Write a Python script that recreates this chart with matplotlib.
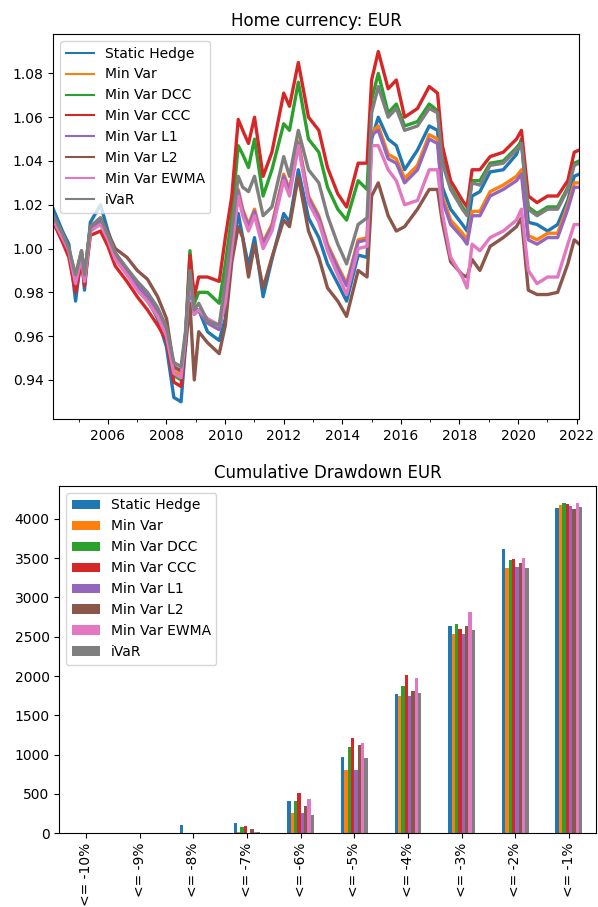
from __future__ import annotations

import matplotlib

matplotlib.use("Agg")

import matplotlib.dates as mdates
import matplotlib.pyplot as plt
import pandas as pd

# hedged portfolio value, sampled at turning points of each path
dates = [
    "2004-02-20", "2004-06-13", "2004-09-01", "2004-11-24", "2005-02-06",
    "2005-03-15", "2005-05-27", "2005-10-01", "2006-01-02", "2006-04-03",
    "2006-08-26", "2007-01-02", "2007-05-09", "2007-09-13", "2008-01-02",
    "2008-04-02", "2008-07-01", "2008-08-25", "2008-10-20", "2008-12-13",
    "2009-02-06", "2009-05-27", "2009-10-20", "2010-01-04", "2010-03-26",
    "2010-06-14", "2010-08-09", "2010-10-20", "2011-01-03", "2011-04-20",
    "2011-08-08", "2012-01-02", "2012-03-14", "2012-07-02", "2012-11-06",
    "2013-03-15", "2013-07-01", "2013-11-06", "2014-02-24", "2014-07-18",
    "2014-11-06", "2015-01-02", "2015-03-26", "2015-07-27", "2015-11-06",
    "2016-02-17", "2016-07-27", "2016-12-20", "2017-04-03", "2017-06-02",
    "2017-09-13", "2018-02-07", "2018-04-06", "2018-06-07", "2018-09-13",
    "2019-01-18", "2019-07-01", "2019-12-13", "2020-02-13", "2020-05-08",
    "2020-08-25", "2021-01-04", "2021-05-09", "2021-09-13", "2021-12-02",
    "2022-02-03",
]

static_hedge = [
    1.018, 1.008, 1.002, 0.976, 0.998, 0.981, 1.012, 1.020, 1.008, 0.998,
    0.990, 0.983, 0.977, 0.968, 0.955, 0.932, 0.930, 0.955, 0.985, 0.970,
    0.972, 0.962, 0.958, 0.968, 0.998, 1.016, 1.005, 0.992, 1.005, 0.978,
    0.995, 1.016, 1.012, 1.036, 1.014, 1.005, 0.993, 0.984, 0.976, 0.997,
    0.996, 1.050, 1.060, 1.050, 1.047, 1.036, 1.045, 1.056, 1.054, 1.028,
    1.018, 1.011, 1.008, 1.024, 1.026, 1.035, 1.036, 1.043, 1.050, 1.012,
    1.011, 1.008, 1.011, 1.022, 1.033, 1.034,
]
min_var = [
    1.014, 1.006, 0.999, 0.985, 0.997, 0.986, 1.009, 1.013, 1.005, 0.997,
    0.990, 0.983, 0.978, 0.971, 0.962, 0.944, 0.942, 0.960, 0.988, 0.972,
    0.972, 0.966, 0.963, 0.978, 1.003, 1.027, 1.018, 1.011, 1.018, 1.003,
    1.011, 1.034, 1.027, 1.049, 1.024, 1.015, 1.002, 0.992, 0.984, 1.004,
    1.005, 1.053, 1.056, 1.043, 1.041, 1.032, 1.038, 1.052, 1.050, 1.024,
    1.013, 1.007, 1.004, 1.017, 1.017, 1.026, 1.029, 1.033, 1.036, 1.006,
    1.004, 1.007, 1.007, 1.020, 1.030, 1.030,
]
min_var_dcc = [
    1.013, 1.005, 0.998, 0.984, 0.996, 0.985, 1.008, 1.012, 1.004, 0.996,
    0.989, 0.982, 0.976, 0.969, 0.960, 0.942, 0.940, 0.960, 0.999, 0.975,
    0.980, 0.980, 0.975, 0.993, 1.015, 1.047, 1.043, 1.037, 1.050, 1.024,
    1.036, 1.057, 1.054, 1.076, 1.050, 1.044, 1.028, 1.018, 1.013, 1.031,
    1.027, 1.068, 1.080, 1.062, 1.066, 1.056, 1.058, 1.066, 1.063, 1.041,
    1.028, 1.019, 1.016, 1.031, 1.031, 1.039, 1.040, 1.046, 1.049, 1.019,
    1.016, 1.019, 1.019, 1.028, 1.039, 1.040,
]
min_var_ccc = [
    1.012, 1.003, 0.996, 0.980, 0.994, 0.983, 1.006, 1.008, 1.001, 0.992,
    0.985, 0.978, 0.972, 0.965, 0.958, 0.939, 0.937, 0.958, 0.997, 0.978,
    0.987, 0.987, 0.985, 1.005, 1.024, 1.059, 1.054, 1.048, 1.060, 1.033,
    1.044, 1.071, 1.065, 1.085, 1.060, 1.054, 1.037, 1.025, 1.019, 1.039,
    1.039, 1.077, 1.090, 1.073, 1.077, 1.060, 1.064, 1.074, 1.071, 1.047,
    1.031, 1.022, 1.019, 1.036, 1.036, 1.042, 1.044, 1.050, 1.054, 1.024,
    1.021, 1.024, 1.024, 1.031, 1.044, 1.045,
]
min_var_l1 = [
    1.014, 1.006, 0.999, 0.985, 0.997, 0.986, 1.009, 1.013, 1.005, 0.997,
    0.990, 0.983, 0.978, 0.971, 0.962, 0.946, 0.944, 0.960, 0.988, 0.972,
    0.972, 0.966, 0.963, 0.977, 1.002, 1.026, 1.017, 1.010, 1.017, 1.002,
    1.010, 1.033, 1.026, 1.048, 1.023, 1.014, 1.001, 0.991, 0.983, 1.003,
    1.004, 1.052, 1.054, 1.041, 1.039, 1.030, 1.036, 1.050, 1.048, 1.022,
    1.011, 1.005, 1.002, 1.015, 1.015, 1.024, 1.027, 1.031, 1.034, 1.004,
    1.002, 1.005, 1.005, 1.018, 1.028, 1.028,
]
min_var_l2 = [
    1.012, 1.006, 1.000, 0.987, 0.999, 0.988, 1.010, 1.014, 1.007, 1.000,
    0.996, 0.990, 0.986, 0.978, 0.968, 0.946, 0.944, 0.955, 0.975, 0.940,
    0.962, 0.957, 0.952, 0.965, 0.994, 1.010, 1.005, 0.987, 1.002, 0.982,
    0.996, 1.013, 1.010, 1.033, 1.008, 0.996, 0.982, 0.976, 0.969, 0.990,
    0.987, 1.024, 1.030, 1.015, 1.008, 1.010, 1.018, 1.027, 1.027, 1.012,
    0.994, 0.988, 0.987, 0.995, 0.990, 1.001, 1.005, 1.010, 1.014, 0.981,
    0.979, 0.979, 0.980, 0.993, 1.004, 1.002,
]
min_var_ewma = [
    1.013, 1.005, 0.999, 0.984, 0.996, 0.985, 1.008, 1.011, 1.004, 0.995,
    0.988, 0.981, 0.976, 0.969, 0.960, 0.943, 0.941, 0.960, 0.987, 0.970,
    0.972, 0.968, 0.965, 0.975, 1.000, 1.024, 1.015, 1.008, 1.015, 1.000,
    1.008, 1.031, 1.024, 1.047, 1.021, 1.012, 0.999, 0.988, 0.979, 1.000,
    1.001, 1.047, 1.047, 1.036, 1.031, 1.020, 1.022, 1.036, 1.036, 1.016,
    0.996, 0.987, 0.982, 1.002, 0.999, 1.005, 1.008, 1.013, 1.018, 0.990,
    0.984, 0.987, 0.987, 1.002, 1.011, 1.011,
]
ivar = [
    1.015, 1.007, 1.000, 0.988, 0.999, 0.988, 1.010, 1.014, 1.006, 0.998,
    0.991, 0.985, 0.980, 0.973, 0.964, 0.948, 0.946, 0.962, 0.990, 0.972,
    0.975, 0.967, 0.965, 0.985, 1.008, 1.033, 1.028, 1.026, 1.033, 1.015,
    1.019, 1.042, 1.033, 1.054, 1.036, 1.030, 1.015, 1.002, 0.993, 1.011,
    1.014, 1.062, 1.074, 1.060, 1.064, 1.054, 1.056, 1.064, 1.062, 1.039,
    1.027, 1.018, 1.015, 1.030, 1.029, 1.038, 1.039, 1.045, 1.048, 1.018,
    1.015, 1.018, 1.018, 1.027, 1.038, 1.039,
]

strategies = [
    "Static Hedge", "Min Var", "Min Var DCC", "Min Var CCC",
    "Min Var L1", "Min Var L2", "Min Var EWMA", "iVaR",
]

# number of days below each drawdown threshold
thresholds = [
    "<= -10%", "<= -9%", "<= -8%", "<= -7%", "<= -6%",
    "<= -5%", "<= -4%", "<= -3%", "<= -2%", "<= -1%",
]
dd_static_hedge = [0, 0, 100, 135, 408, 972, 1775, 2632, 3613, 4140]
dd_min_var = [0, 0, 0, 15, 262, 806, 1749, 2539, 3376, 4173]
dd_min_var_dcc = [0, 0, 0, 76, 408, 1103, 1876, 2657, 3473, 4199]
dd_min_var_ccc = [0, 0, 0, 89, 517, 1210, 2017, 2599, 3485, 4186]
dd_min_var_l1 = [0, 0, 0, 8, 255, 806, 1749, 2539, 3389, 4160]
dd_min_var_l2 = [0, 0, 0, 55, 352, 1125, 1804, 2632, 3434, 4127]
dd_min_var_ewma = [0, 0, 0, 12, 433, 1150, 1975, 2815, 3507, 4208]
dd_ivar = [0, 0, 0, 12, 233, 959, 1787, 2586, 3376, 4153]


def build_frames() -> tuple[pd.DataFrame, pd.DataFrame]:
    values = pd.DataFrame(
        dict(zip(strategies, [
            static_hedge, min_var, min_var_dcc, min_var_ccc,
            min_var_l1, min_var_l2, min_var_ewma, ivar,
        ])),
        index=pd.to_datetime(dates),
    )
    drawdown = pd.DataFrame(
        dict(zip(strategies, [
            dd_static_hedge, dd_min_var, dd_min_var_dcc, dd_min_var_ccc,
            dd_min_var_l1, dd_min_var_l2, dd_min_var_ewma, dd_ivar,
        ])),
        index=thresholds,
    )
    return values, drawdown


def main() -> None:
    values, drawdown = build_frames()

    fig = plt.figure(figsize=(5.98, 9.07), dpi=100)

    ax1 = fig.add_axes([0.0891, 0.5377, 0.8796, 0.4248])
    for name in strategies:
        # daily noise makes each path read as a thick band
        ax1.plot(values.index, values[name], label=name, lw=2.4)
    ax1.set_xlim(values.index[0], values.index[-1])
    ax1.xaxis.set_major_locator(mdates.YearLocator(2))
    ax1.xaxis.set_minor_locator(mdates.YearLocator(1))
    ax1.xaxis.set_major_formatter(mdates.DateFormatter("%Y"))
    ax1.set_title("Home currency: EUR")
    leg = ax1.legend(loc="upper left")
    for handle in leg.get_lines():
        handle.set_linewidth(1.5)

    ax2 = fig.add_axes([0.0992, 0.0813, 0.897, 0.3829])
    drawdown.plot.bar(ax=ax2)
    ax2.set_title("Cumulative Drawdown EUR")
    ax2.legend(loc="upper left")

    fig.savefig("out.png", dpi=100)
    plt.close(fig)


if __name__ == "__main__":
    main()
